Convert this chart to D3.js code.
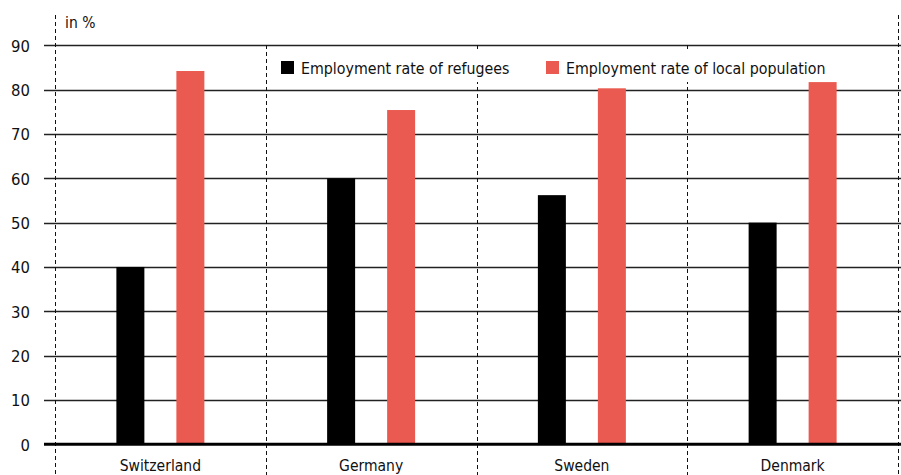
<!DOCTYPE html>
<html><head><meta charset="utf-8">
<script src="https://cdn.jsdelivr.net/npm/d3@7"></script>
<style>
html,body{margin:0;padding:0;background:#fff;}
svg{display:block;}
text{font-family:"DejaVu Sans Condensed","Liberation Sans Narrow",sans-serif;fill:#111;}
</style></head>
<body>
<script>
const categories = ["Switzerland", "Germany", "Sweden", "Denmark"];
const refugees = [40, 60, 56.2, 50];
const locals = [84.2, 75.4, 80.3, 81.7];
const seriesNames = ["Employment rate of refugees", "Employment rate of local population"];
const colors = ["#000000", "#EA5A50"];
const yTicks = [0, 10, 20, 30, 40, 50, 60, 70, 80, 90];

const W = 901, H = 475;
const svg = d3.select("body").append("svg").attr("width", W).attr("height", H);

const x = d3.scaleBand().domain(categories).range([55, 898]).paddingInner(0).paddingOuter(0);
const y = d3.scaleLinear().domain([0, 90]).range([444.3, 45.3]);

// gridlines
svg.append("g").selectAll("line").data(yTicks.filter(d => d > 0)).join("line")
  .attr("x1", 44).attr("x2", W).attr("y1", d => Math.round(y(d)) + 0.5).attr("y2", d => Math.round(y(d)) + 0.5)
  .attr("stroke", "#222").attr("stroke-width", 1.3);

// y axis labels
const yAxis = d3.axisLeft(y).tickValues(yTicks).tickSize(0).tickPadding(0);
const ga = svg.append("g").attr("transform", "translate(30,0)").call(yAxis);
ga.select(".domain").remove();
ga.selectAll("text").attr("font-size", 16.5).attr("fill", "#111").attr("dy", "0.35em")
  .style("font-family", '"DejaVu Sans Condensed","Liberation Sans Narrow",sans-serif');

svg.append("text").attr("x", 65).attr("y", 28).attr("font-size", 15.5).text("in %");

// dashed verticals
const bounds = [55, 898];
const inner = categories.slice(1).map(c => x(c));
svg.append("g").selectAll("line").data(bounds).join("line")
  .attr("x1", d => d + 0.5).attr("x2", d => d + 0.5).attr("y1", 15).attr("y2", H)
  .attr("stroke", "#111").attr("stroke-width", 1).attr("stroke-dasharray", "4,3");
svg.append("g").selectAll("line").data(inner).join("line")
  .attr("x1", d => Math.round(d) + 0.5).attr("x2", d => Math.round(d) + 0.5).attr("y1", 45).attr("y2", H)
  .attr("stroke", "#111").attr("stroke-width", 1).attr("stroke-dasharray", "4,3");

// bars
const bw = 28;
const centers = categories.map(c => x(c) + x.bandwidth() / 2);
const offs = [-30, 30];
[refugees, locals].forEach((vals, si) => {
  svg.append("g").selectAll("rect").data(vals).join("rect")
    .attr("x", (d, i) => centers[i] + offs[si] - bw / 2)
    .attr("width", bw)
    .attr("y", d => y(d))
    .attr("height", d => y(0) - y(d))
    .attr("fill", colors[si]);
});

// baseline
svg.append("line").attr("x1", 44).attr("x2", W).attr("y1", y(0)).attr("y2", y(0))
  .attr("stroke", "#000").attr("stroke-width", 3);

// legend
svg.append("rect").attr("x", 272).attr("y", 49).attr("width", 568).attr("height", 33).attr("fill", "#fff");
const legX = [281, 546];
seriesNames.forEach((n, i) => {
  svg.append("rect").attr("x", legX[i]).attr("y", 61).attr("width", 13).attr("height", 13).attr("fill", colors[i]);
  svg.append("text").attr("x", legX[i] + 20).attr("y", 74).attr("font-size", 15.8).text(n);
});

// category labels
svg.append("g").selectAll("text").data(categories).join("text")
  .attr("x", (d, i) => centers[i]).attr("y", 471).attr("text-anchor", "middle").attr("font-size", 15.5)
  .text(d => d);
</script>
</body></html>
